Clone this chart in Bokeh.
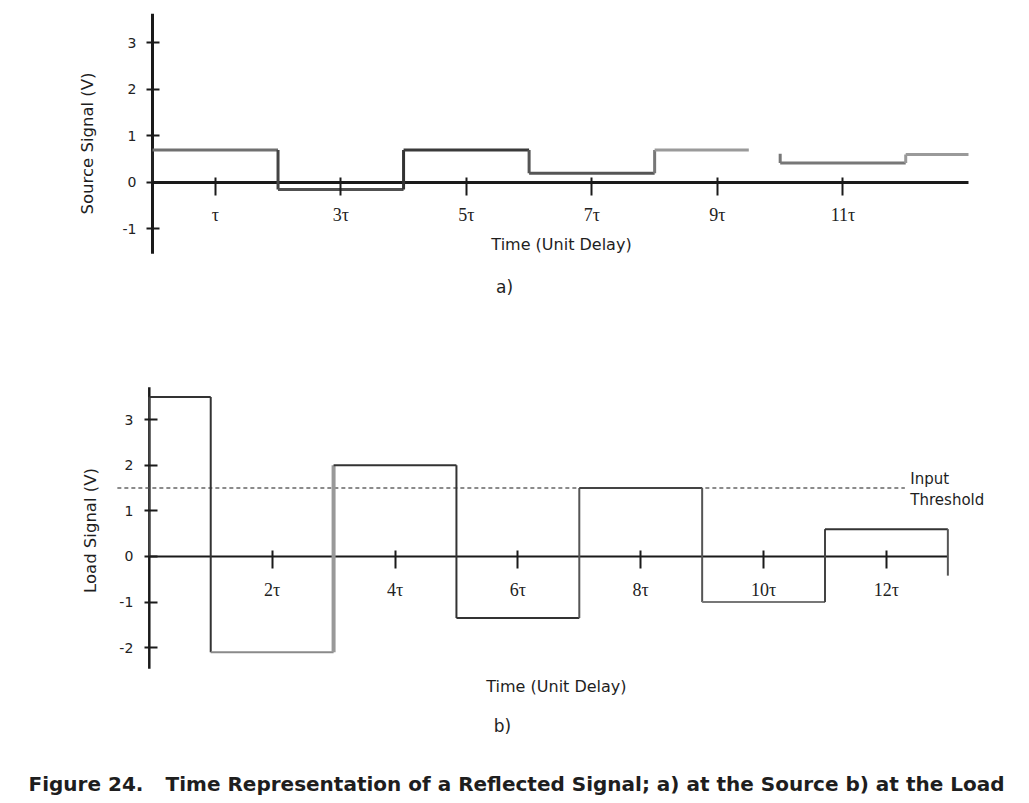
from bokeh.plotting import figure
from bokeh.models import LinearAxis, FixedTicker, Label, ColumnDataSource, Range1d
from bokeh.layouts import column
from bokeh.embed import file_html
from bokeh.resources import INLINE
from bokeh.core.properties import value

# ---------------- data ----------------
source_edges = [0, 2, 4, 6, 8, 10, 12, 13]
source_levels = [0.7, -0.15, 0.7, 0.2, 0.7, 0.42, 0.6]
source_gap = [9.5, 10.0]          # trace fades out between these times
source_stub_top = 0.62
source_ticks = [1, 3, 5, 7, 9, 11]
source_tick_labels = ["τ", "3τ", "5τ", "7τ", "9τ", "11τ"]
source_yticks = [-1, 0, 1, 2, 3]
source_v_extent = [-1.53, 3.63]

load_edges = [0, 1, 3, 5, 7, 9, 11, 13]
load_levels = [3.5, -2.1, 2.0, -1.35, 1.5, -1.0, 0.6]
load_tail = -0.42
load_ticks = [2, 4, 6, 8, 10, 12]
load_tick_labels = ["2τ", "4τ", "6τ", "8τ", "10τ", "12τ"]
load_yticks = [-2, -1, 0, 1, 2, 3]
load_v_extent = [-2.46, 3.71]
threshold = 1.5
threshold_span = [-0.52, 12.3]

caption_num = "Figure 24."
caption_text = "Time Representation of a Reflected Signal; a) at the Source b) at the Load"

# ---------------- styles ----------------
src_hcol = ["#707070", "#505050", "#3a3a3a", "#555555", "#9a9a9a", "#777777", "#9a9a9a"]
src_vcol = ["#222222", "#444444", "#333333", "#555555", "#777777", "#777777", "#999999"]
load_hcol = ["#333333", "#8a8a8a", "#333333", "#333333", "#444444", "#777777", "#333333"]
load_vcol = ["#444444", "#333333", "#999999", "#333333", "#555555", "#555555", "#444444"]
load_vwid = [2, 2, 4, 2, 2, 2, 2]

SANS = "DejaVu Sans"
SERIF = "Liberation Serif"
INK = "#1a1a1a"


def step_source(edges, levels, hcol, vcol, hw, vw, gap=None, stub=None):
    d = dict(x0=[], y0=[], x1=[], y1=[], c=[], w=[])

    def add(a, b, c, e, col, w):
        d["x0"].append(a); d["y0"].append(b); d["x1"].append(c); d["y1"].append(e)
        d["c"].append(col); d["w"].append(w)

    for i, lev in enumerate(levels):
        start = 0 if i == 0 else levels[i - 1]
        vwi = vw[i] if isinstance(vw, list) else vw
        if gap is not None and edges[i] == gap[1]:
            add(edges[i], lev, edges[i], stub, vcol[i], vwi)
        else:
            add(edges[i], start, edges[i], lev, vcol[i], vwi)
        end = edges[i + 1]
        if gap is not None and edges[i + 1] == gap[1]:
            end = gap[0]
        add(edges[i], lev, end, lev, hcol[i], hw)
    return d


def base_fig(xr, yr, fw, fh):
    p = figure(x_range=Range1d(*xr), y_range=Range1d(*yr), frame_width=fw, frame_height=fh,
               min_border=0, x_axis_location=None, y_axis_location=None,
               toolbar_location=None, output_backend="svg", title=None)
    p.xgrid.visible = False
    p.ygrid.visible = False
    p.outline_line_color = None
    p.background_fill_color = "white"
    p.border_fill_color = "white"
    return p


def style_axis(ax, font, size):
    ax.axis_line_color = None
    ax.major_tick_line_width = 2
    ax.major_tick_line_color = INK
    ax.minor_tick_line_color = None
    ax.major_label_text_font = font
    ax.major_label_text_font_size = size
    ax.major_label_text_color = "#222222"


def add_text(p, x, y, text, size, angle=0, align="center", baseline="middle", bold=False):
    p.add_layout(Label(x=x, y=y, text=text, text_align=align, text_baseline=baseline,
                       text_font=SANS, text_font_size=size, angle=angle, angle_units="deg",
                       text_font_style="bold" if bold else "normal", text_color="#1e1e1e"))


# ---------------- plot a) : source ----------------
t_end = source_edges[-1]
p1 = base_fig((-2.4215, 13.972), (-2.925, 3.914), 1029, 318)

# axis lines
p1.segment(x0=[0, 0], y0=[0, source_v_extent[0]], x1=[t_end, 0], y1=[0, source_v_extent[1]],
           line_color=INK, line_width=3)

d1 = step_source(source_edges, source_levels, src_hcol, src_vcol, 3, 3, source_gap, source_stub_top)
p1.segment("x0", "y0", "x1", "y1", source=ColumnDataSource(d1), line_color="c", line_width="w")

xa1 = LinearAxis(fixed_location=0, ticker=FixedTicker(ticks=source_ticks))
xa1.major_label_overrides = {v: s for v, s in zip(source_ticks, source_tick_labels)}
style_axis(xa1, SERIF, "18px")
xa1.major_tick_in = 5
xa1.major_tick_out = 13
xa1.major_label_standoff = 10
p1.add_layout(xa1, "below")

ya1 = LinearAxis(fixed_location=0, ticker=FixedTicker(ticks=source_yticks))
ya1.major_label_overrides = {v: str(v) for v in source_yticks}
style_axis(ya1, SANS, "14px")
ya1.major_tick_in = 7
ya1.major_tick_out = 6
ya1.major_label_standoff = 10
p1.add_layout(ya1, "left")

add_text(p1, -1.036, 0.839, "Source Signal (V)", "16.5px", angle=90)
add_text(p1, 6.516, -1.333, "Time (Unit Delay)", "16px")
add_text(p1, 5.608, -2.258, "a)", "17px")

# ---------------- plot b) : load ----------------
t_end2 = load_edges[-1]
p2 = base_fig((-2.4223, 14.329), (-5.417, 5.219), 1029, 485)

# axis lines
p2.segment(x0=[0, 0], y0=[0, load_v_extent[0]], x1=[t_end2, 0], y1=[0, load_v_extent[1]],
           line_color=INK, line_width=[2, 2.5])

# threshold
p2.segment(x0=[threshold_span[0]], y0=[threshold], x1=[threshold_span[1]], y1=[threshold],
           line_color="#666666", line_width=1.5, line_dash="4 3")

d2 = step_source(load_edges, load_levels, load_hcol, load_vcol, 2, load_vwid)
d2["x0"].append(t_end2); d2["y0"].append(load_levels[-1])
d2["x1"].append(t_end2); d2["y1"].append(load_tail)
d2["c"].append("#555555"); d2["w"].append(2)
p2.segment("x0", "y0", "x1", "y1", source=ColumnDataSource(d2), line_color="c", line_width="w")

xa2 = LinearAxis(fixed_location=0, ticker=FixedTicker(ticks=load_ticks))
xa2.major_label_overrides = {v: s for v, s in zip(load_ticks, load_tick_labels)}
style_axis(xa2, SERIF, "18px")
xa2.major_tick_in = 6
xa2.major_tick_out = 12
xa2.major_label_standoff = 12
p2.add_layout(xa2, "below")

ya2 = LinearAxis(fixed_location=0, ticker=FixedTicker(ticks=load_yticks))
ya2.major_label_overrides = {v: str(v) for v in load_yticks}
style_axis(ya2, SANS, "14px")
ya2.major_tick_in = 8
ya2.major_tick_out = 5
ya2.major_label_standoff = 11
p2.add_layout(ya2, "left")

add_text(p2, 12.389, 1.71, "Input", "15px", align="left", baseline="alphabetic")
add_text(p2, 12.389, 1.24, "Threshold", "15px", align="left", baseline="alphabetic")
add_text(p2, -0.957, 0.570, "Load Signal (V)", "16.5px", angle=90)
add_text(p2, 6.628, -2.851, "Time (Unit Delay)", "16px")
add_text(p2, 5.749, -3.728, "b)", "17px")
add_text(p2, -1.966, -5.0, caption_num, "20px", align="left", baseline="alphabetic", bold=True)
add_text(p2, 0.265, -5.0, caption_text, "20px", align="left", baseline="alphabetic", bold=True)

layout = column(p1, p2, spacing=0)
open("out.html", "w").write(file_html(layout, INLINE))
